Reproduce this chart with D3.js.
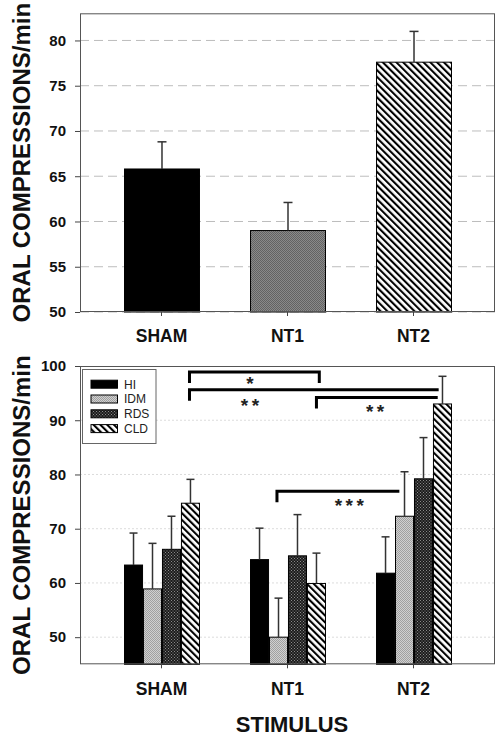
<!DOCTYPE html>
<html><head><meta charset="utf-8">
<script src="https://cdn.jsdelivr.net/npm/d3@7"></script>
<style>body{margin:0;background:#fff}svg{display:block}</style>
</head><body><svg id="c" width="504" height="742"></svg>
<script>
// ---------- data ----------
const categories = ["SHAM", "NT1", "NT2"];
const topMeans  = [65.8, 59.0, 77.6];
const topErrors = [3.0, 3.1, 3.4];
const topTicks  = [50, 55, 60, 65, 70, 75, 80];

const groups   = ["HI", "IDM", "RDS", "CLD"];
const hiMeans  = [63.3, 64.3, 61.8];
const idmMeans = [58.9, 50.0, 72.3];
const rdsMeans = [66.2, 65.0, 79.2];
const cldMeans = [74.7, 59.9, 93.0];
const hiErr    = [5.9, 5.8, 6.7];
const idmErr   = [8.4, 7.2, 8.2];
const rdsErr   = [6.1, 7.6, 7.6];
const cldErr   = [4.4, 5.6, 5.1];
const bottomTicks = [50, 60, 70, 80, 90, 100];

// significance brackets: ends given as [category, group position], levels in data units
const brackets = [
  {from: ["SHAM", 2.95], to: ["NT1", 3.15], level: 98.9, label: "*",   labelAt: ["NT1", -0.5],  labelLevel: 97.5, dropRight: true},
  {from: ["SHAM", 2.95], to: ["NT2", 2.8],  level: 95.6, label: "**",  labelAt: ["NT1", -0.5],  labelLevel: 93.5, dropRight: false},
  {from: ["NT1", 3.0],   to: ["NT2", 2.75], level: 94.2, label: "**",  labelAt: ["NT2", -0.55], labelLevel: 92.45, dropRight: false},
  {from: ["NT1", 0.92],  to: ["NT2", 0.73], level: 76.9, label: "***", labelAt: ["NT1", 4.73],  labelLevel: 75.0, dropRight: false}
];

const xTitle = "STIMULUS";
const yTitle = "ORAL COMPRESSIONS/min";

// ---------- setup ----------
const svg = d3.select("#c");
const font = "'Liberation Sans', Arial, sans-serif";
const defs = svg.append("defs");

function checker(id, base, dot, size) {
  const p = defs.append("pattern").attr("id", id).attr("patternUnits", "userSpaceOnUse")
    .attr("width", size).attr("height", size);
  p.append("rect").attr("width", size).attr("height", size).attr("fill", base);
  p.append("rect").attr("width", 1).attr("height", 1).attr("fill", dot);
  p.append("rect").attr("x", size / 2).attr("y", size / 2).attr("width", 1).attr("height", 1).attr("fill", dot);
}
checker("pGrey", "#8a8a8a", "#636363", 2);
checker("pIDM", "#d0d0d0", "#a0a0a0", 2);
checker("pRDS", "#1c1c1c", "#8a8a8a", 3);
const hatch = defs.append("pattern").attr("id", "pHatch").attr("patternUnits", "userSpaceOnUse")
  .attr("width", 4.8).attr("height", 10).attr("patternTransform", "rotate(-45)");
hatch.append("rect").attr("width", 4.8).attr("height", 10).attr("fill", "#fff");
hatch.append("rect").attr("width", 2.1).attr("height", 10).attr("fill", "#000");

const frameL = 80, frameR = 495;
const x = d3.scaleBand().domain(categories).range([98.5, 476.5]).paddingInner(0.405).paddingOuter(0.2024);
const xg = d3.scaleBand().domain(groups).range([0, x.bandwidth()]).paddingInner(0.05);

function drawGrid(g, y, top, ticks, gridDash, gridColor) {
  g.append("g").selectAll("line").data(ticks.filter(t => y(t) > top + 1)).join("line")
    .attr("x1", frameL).attr("x2", frameR).attr("y1", d => y(d)).attr("y2", d => y(d))
    .attr("stroke", gridColor).attr("stroke-width", 1).attr("stroke-dasharray", gridDash);
}
function drawAxes(g, y, top, bottom, ticks) {
  const ya = g.append("g").attr("transform", `translate(${frameL},0)`)
    .call(d3.axisLeft(y).tickValues(ticks).tickSize(5).tickPadding(9).tickFormat(d3.format("d")));
  ya.select(".domain").remove();
  ya.selectAll("line").attr("stroke", "#444");
  ya.selectAll("text").attr("font-family", font).attr("font-weight", "bold").attr("font-size", 15).attr("fill", "#111");
  const xa = g.append("g").attr("transform", `translate(0,${bottom})`)
    .call(d3.axisBottom(x).tickSize(4).tickPadding(14));
  xa.select(".domain").remove();
  xa.selectAll("line").attr("stroke", "#444");
  xa.selectAll("text").attr("font-family", font).attr("font-weight", "bold").attr("font-size", 17.5).attr("fill", "#111");
  g.append("rect").attr("x", frameL + 0.5).attr("y", top + 0.5).attr("width", frameR - frameL - 1)
    .attr("height", bottom - top - 1).attr("fill", "none").attr("stroke", "#555").attr("stroke-width", 1);
  g.append("text").attr("transform", `translate(30,${(top + bottom) / 2}) rotate(-90)`)
    .attr("text-anchor", "middle").attr("font-family", font).attr("font-weight", "bold")
    .attr("font-size", 24).attr("fill", "#111").text(yTitle);
}
function errorBar(g, cx, y, m, e, cap) {
  g.append("line").attr("x1", cx).attr("x2", cx).attr("y1", y(m)).attr("y2", y(m + e))
    .attr("stroke", "#333").attr("stroke-width", 1.5);
  g.append("line").attr("x1", cx - cap / 2).attr("x2", cx + cap / 2).attr("y1", y(m + e)).attr("y2", y(m + e))
    .attr("stroke", "#333").attr("stroke-width", 1.5);
}

// ---------- top panel ----------
const topT = 13.3, topB = 312;
const y1 = d3.scaleLinear().domain([50, 83]).range([topB, topT]);
const g1 = svg.append("g");
drawGrid(g1, y1, topT, topTicks, "9,5", "#bdbdbd");
const topFills = ["#000", "url(#pGrey)", "url(#pHatch)"];
g1.append("g").selectAll("rect").data(categories).join("rect")
  .attr("x", d => x(d) + 0.5).attr("width", x.bandwidth())
  .attr("y", (d, i) => y1(topMeans[i])).attr("height", (d, i) => topB - y1(topMeans[i]))
  .attr("fill", (d, i) => topFills[i]).attr("stroke", "#000").attr("stroke-width", 1);
categories.forEach((c, i) => errorBar(g1, x(c) + x.bandwidth() / 2 + 0.5, y1, topMeans[i], topErrors[i], 9));
drawAxes(g1, y1, topT, topB, topTicks);

// ---------- bottom panel ----------
const botT = 366, botB = 664.3;
const y2 = d3.scaleLinear().domain([45, 100]).range([botB, botT]);
const g2 = svg.append("g");
drawGrid(g2, y2, botT, bottomTicks, "2,2", "#dcdcdc");
const series = [
  {name: "HI",  means: hiMeans,  errs: hiErr,  fill: "#000"},
  {name: "IDM", means: idmMeans, errs: idmErr, fill: "url(#pIDM)"},
  {name: "RDS", means: rdsMeans, errs: rdsErr, fill: "url(#pRDS)"},
  {name: "CLD", means: cldMeans, errs: cldErr, fill: "url(#pHatch)"}
];
const cells = [];
series.forEach(s => categories.forEach((c, i) => cells.push({c, s, m: s.means[i], e: s.errs[i]})));
g2.append("g").selectAll("rect").data(cells).join("rect")
  .attr("x", d => x(d.c) + xg(d.s.name) + 0.5).attr("width", xg.bandwidth())
  .attr("y", d => y2(d.m)).attr("height", d => botB - y2(d.m))
  .attr("fill", d => d.s.fill).attr("stroke", "#000").attr("stroke-width", 1);
cells.forEach(d => errorBar(g2, x(d.c) + xg(d.s.name) + xg.bandwidth() / 2 + 0.5, y2, d.m, d.e, 8));
drawAxes(g2, y2, botT, botB, bottomTicks);

// legend
const lg = g2.append("g");
lg.append("rect").attr("x", 82.5).attr("y", 369.5).attr("width", 73.5).attr("height", 74)
  .attr("fill", "#fff").attr("stroke", "#666").attr("stroke-width", 1);
series.forEach((s, i) => {
  const cy = 384.2 + i * 14.8;
  lg.append("rect").attr("x", 91).attr("y", cy - 4).attr("width", 26.5).attr("height", 8)
    .attr("fill", s.fill).attr("stroke", "#000").attr("stroke-width", 1);
  lg.append("text").attr("x", 124).attr("y", cy + 4.3).attr("font-family", font)
    .attr("font-size", 12).attr("fill", "#222").text(s.name);
});

// brackets
const gx = (c, p) => x(c) + xg.step() * (p + 0.5);
const starSize = 19, starGap = 3.5;
brackets.forEach(b => {
  const xa = gx(b.from[0], b.from[1]), xb = gx(b.to[0], b.to[1]);
  const yl = y2(b.level), drop = 11;
  let path = `M${xa},${yl + drop}V${yl}H${xb}`;
  if (b.dropRight) path += `V${yl + drop}`;
  g2.append("path").attr("d", path).attr("fill", "none").attr("stroke", "#000").attr("stroke-width", 3);
  g2.append("text").attr("x", gx(b.labelAt[0], b.labelAt[1]) + starGap / 2)
    .attr("y", y2(b.labelLevel) + starSize * 0.56)
    .attr("text-anchor", "middle").attr("font-family", font).attr("font-weight", "bold")
    .attr("letter-spacing", starGap).attr("font-size", starSize).attr("fill", "#222").text(b.label);
});

// x title
svg.append("text").attr("x", 292).attr("y", 731.5).attr("text-anchor", "middle")
  .attr("font-family", font).attr("font-weight", "bold").attr("font-size", 22).attr("fill", "#111").text(xTitle);
</script></body></html>
